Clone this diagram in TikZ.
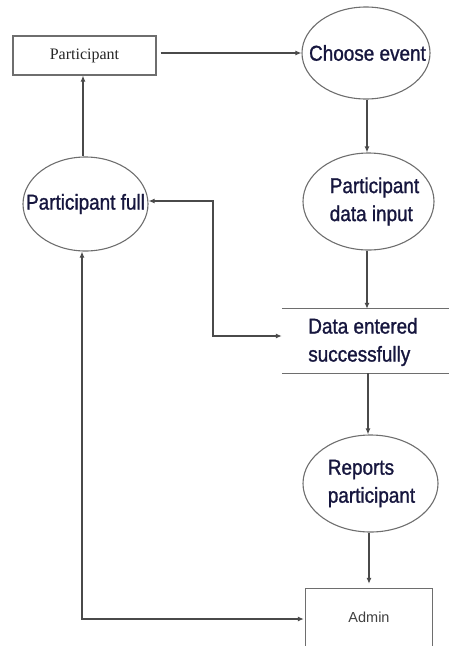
\documentclass[tikz,border=0pt]{standalone}
\usepackage{fontspec}
\setmainfont{Liberation Sans}
\newfontfamily\serifbox{Liberation Serif}
\newfontfamily\dfdfont[FakeStretch=0.88,FakeBold=1.2]{Liberation Sans}
\usetikzlibrary{shapes.geometric,arrows.meta,calc}
\definecolor{linegray}{HTML}{4A4A4A}
\definecolor{rimgray}{HTML}{6E6E6E}
\definecolor{inkblue}{HTML}{16163E}
\tikzset{
  dfdtext/.style={align=left, text=inkblue, inner sep=0pt,
    font=\dfdfont\fontsize{21.5}{28}\selectfont},
  procnode/.style={ellipse, draw=rimgray, line width=1.1pt, inner sep=0pt},
  proctext/.style 2 args={label={[dfdtext, xshift=#1]center:#2}},
  entitybox/.style={rectangle, draw=rimgray, line width=1.1pt, inner sep=0pt},
  flow/.style={draw=linegray, line width=1.1pt, -{Latex[length=6pt,width=5pt]}},
  flowboth/.style={draw=linegray, line width=1.1pt,
    {Latex[length=6pt,width=5pt]}-{Latex[length=6pt,width=5pt]}}
}
\begin{document}
\begin{tikzpicture}[x=1pt,y=-1pt]
\useasboundingbox (0,0) rectangle (449,646);

% external entities
\node[entitybox, minimum width=143pt, minimum height=39pt,
  font=\serifbox\fontsize{16}{18}\selectfont, text=black!85] (part) at (84.5,55.5) {Participant};
\node[minimum width=126pt, minimum height=57pt, inner sep=0pt,
  font=\fontsize{14.5}{17}\selectfont, text=black!75] (admin) at (369,617.5) {Admin};
\draw[rimgray, line width=1.1pt] (admin.south west) -- (admin.north west)
  -- (admin.north east) -- (admin.south east);

% processes (fixed outline, text laid over it)
\node[procnode, minimum width=128pt, minimum height=92pt,
  proctext={1.5pt}{Choose event}] (choose) at (366,53) {};
\node[procnode, minimum width=125pt, minimum height=94pt,
  proctext={0pt}{Participant full}] (full) at (85.5,204) {};
\node[procnode, minimum width=131pt, minimum height=97pt,
  proctext={6pt}{Participant\\data input}] (input) at (368.5,201.5) {};
\node[procnode, minimum width=135pt, minimum height=97pt,
  proctext={1pt}{Reports\\participant}] (reports) at (370.5,483.5) {};

% data store
\node[minimum width=167pt, minimum height=64pt, inner sep=0pt] (store) at (365.5,341) {};
\node[dfdtext] (storetext) at (363,342) {Data entered\\successfully};
\draw[rimgray, line width=1.1pt] (store.north west) -- (store.north east);
\draw[rimgray, line width=1.1pt] (store.south west) -- (store.south east);

% corner points of the routed flows
\coordinate (kA) at (213,201);
\coordinate (kB) at (213,336);
\coordinate (kC) at (82,619);

% flows
\draw[flow] ([xshift=4pt]part.east |- choose.west) -- (choose.west);
\draw[flow] (choose.south -| 367,0) -- (input.north -| 367,0);
\draw[flow] (full.north -| 83,0) -- (part.south -| 83,0);
\draw[flow] (input.south -| 367,0) -- (store.north -| 367,0);
\draw[flow] (store.south -| 368,0) -- (reports.north -| 368,0);
\draw[flow, shorten >=5pt] (reports.south -| 369,0) -- (admin.north -| 369,0);
\draw[flowboth] (full.east |- kA) -- (kA) -- (kB) -- (store.west |- kB);
\draw[flowboth, shorten >=2pt] (full.south -| kC) -- (kC) -- (kC -| admin.west);
\end{tikzpicture}
\end{document}
